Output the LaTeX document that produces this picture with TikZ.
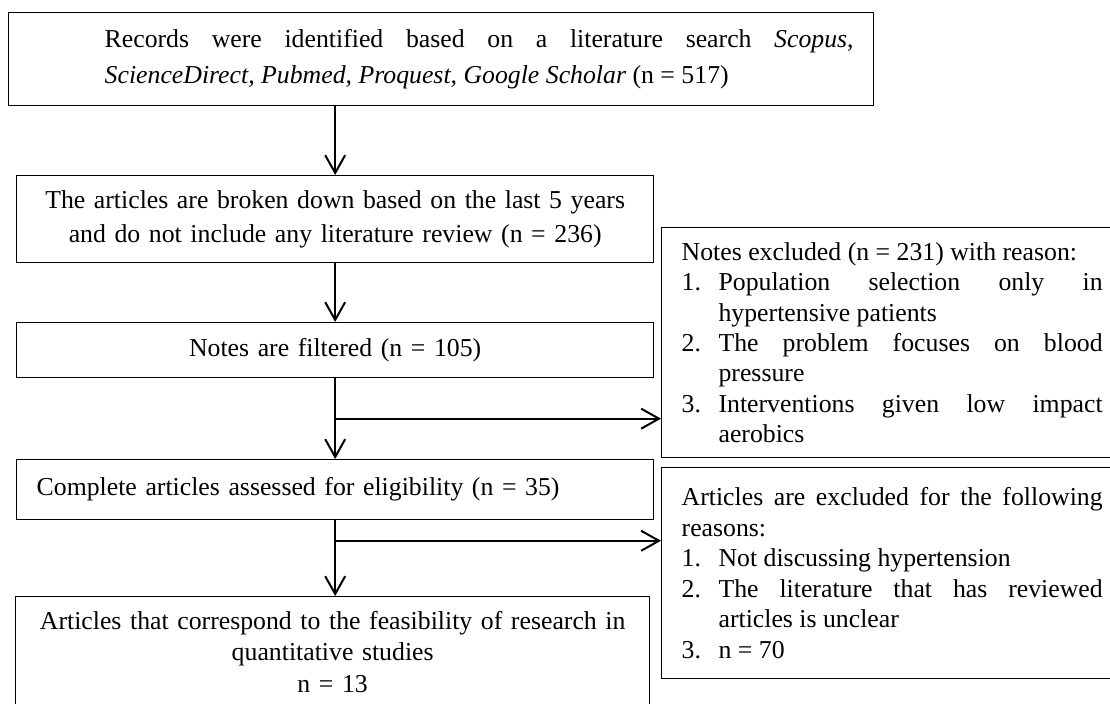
\documentclass[tikz,border=0pt]{standalone}
\usepackage{fontspec}
\setmainfont{Liberation Serif}
\usetikzlibrary{arrows.meta,calc}

\hyphenpenalty=10000
\tolerance=10000
\hbadness=10000

\newcommand{\reasonitem}[2]{\par\hangindent=16.6pt\hangafter=1\noindent\makebox[16.6pt][l]{#1}#2}

\tikzset{
  flowbox/.style={draw, line width=0.6pt, anchor=north west, inner xsep=9pt, inner ysep=0pt,
    font=\fontsize{11.6pt}{13.7pt}\selectfont},
  flowarrow/.style={-{Straight Barb[length=8pt,width=9pt]}, line width=0.9pt},
}

\begin{document}
\begin{tikzpicture}[x=0.45pt, y=-0.45pt]
 \useasboundingbox (0,0) rectangle (1110,704);

 % main column
 \node[flowbox, text width=371.25pt, minimum height=41.85pt, align=justify,
   font=\fontsize{11.6pt}{16.2pt}\selectfont] (rec) at (8,12)
   {\leftskip=34.2pt Records were identified based on a literature search \textit{Scopus},
    \linebreak\textit{ScienceDirect, Pubmed, Proquest, Google Scholar} (n = 517)\par};
 \node[flowbox, text width=268.65pt, minimum height=39.15pt, align=center,
   font=\fontsize{11.6pt}{15.3pt}\selectfont] (art) at (16,175)
   {The articles are broken down based on the last 5 years\\
    and do not include any literature review (n = 236)};
 \node[flowbox, text width=268.65pt, minimum height=24.75pt, align=center] (filt) at (16,322)
   {Notes are filtered (n = 105)};
 \node[flowbox, text width=268.65pt, minimum height=27pt, align=left] (elig) at (16,459)
   {Complete articles assessed for eligibility (n = 35)};
 \node[flowbox, text width=267.3pt, minimum height=49.5pt, align=center,
   font=\fontsize{11.6pt}{14.2pt}\selectfont] (final) at (15,596)
   {Articles that correspond to the feasibility of research in\\
    quantitative studies\\
    n = 13};

 % exclusions
 \node[flowbox, text width=189.45pt, minimum height=103.5pt, align=justify] (excl1) at (661,227)
   {Notes excluded (n = 231) with reason:
    \reasonitem{1.}{Population selection only in \linebreak hypertensive patients}
    \reasonitem{2.}{The problem focuses on blood \linebreak pressure}
    \reasonitem{3.}{Interventions given low impact \linebreak aerobics}\par};
 \node[flowbox, text width=189.45pt, minimum height=94.95pt, align=justify] (excl2) at (661,467)
   {Articles are excluded for the following \linebreak reasons:
    \reasonitem{1.}{Not discussing hypertension}
    \reasonitem{2.}{The literature that has reviewed \linebreak articles is unclear}
    \reasonitem{3.}{n = 70}\par};

 % arrows
 \draw[flowarrow] (rec.south -| art.north) -- (art.north);
 \draw[flowarrow] (art.south) -- (filt.north);
 \draw[flowarrow] (filt.south) -- (elig.north);
 \coordinate (fork1) at ($(filt.south)!0.5!(elig.north)$);
 \draw[flowarrow] (fork1) -- (fork1 -| excl1.west);
 \draw[flowarrow] (elig.south) -- (elig.south |- final.north);
 \coordinate (fork2) at ($(elig.south)!0.27!(elig.south |- final.north)$);
 \draw[flowarrow] (fork2) -- (fork2 -| excl2.west);
\end{tikzpicture}
\end{document}
